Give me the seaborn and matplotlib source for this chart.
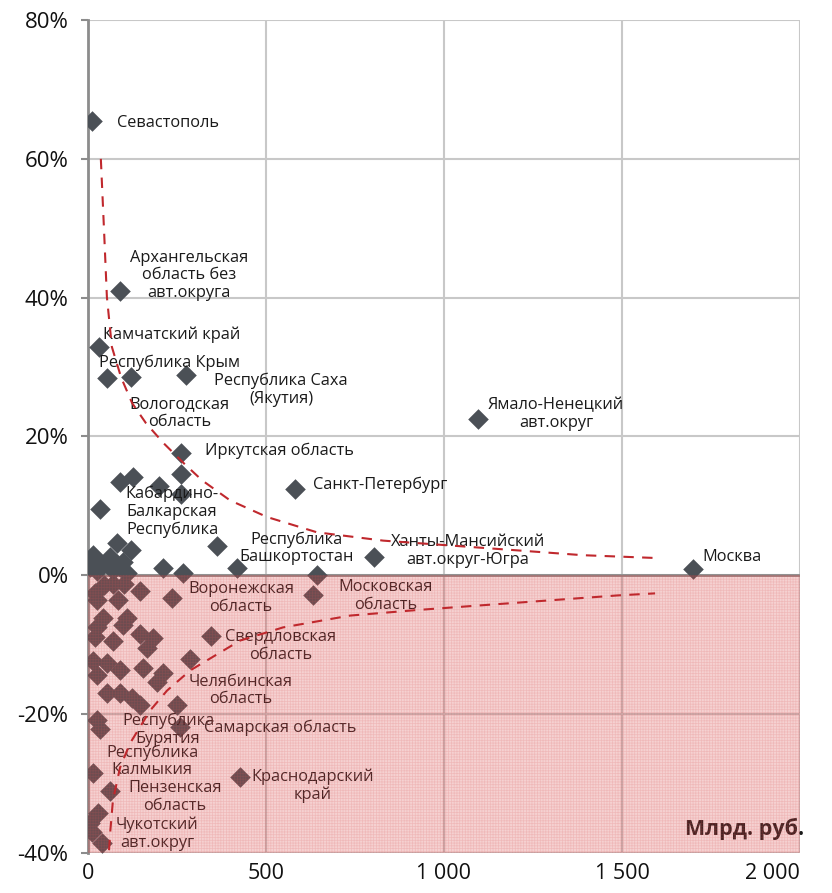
import matplotlib
matplotlib.use("Agg")
import matplotlib.pyplot as plt
import seaborn as sns
import pandas as pd

# ---- data ----
vol_x = [11, 90, 31, 53, 121, 275, 261, 261, 261, 90, 126, 199, 34, 581, 1096, 1699,
         803, 362, 418, 643, 211, 267, 81, 121, 14, 62, 34, 6, 90, 70, 110, 53, 25, 98,
         70, 146, 236, 20, 25, 632, 42, 110, 25, 98, 146, 183, 70, 166, 20, 345, 286,
         14, 53, 90, 154, 211, 194, 25, 53, 90, 124, 146, 250, 25, 34, 258, 427, 14, 62,
         28, 6, 11, 39, 84, 101, 45]
growth_y = [65.4, 41.0, 32.9, 28.4, 28.5, 28.8, 17.6, 14.6, 11.7, 13.4, 14.1, 12.8, 9.5,
            12.5, 22.5, 0.9, 2.6, 4.2, 1.0, 0.1, 1.0, 0.3, 4.6, 3.7, 2.9, 2.6, 1.4, 1.2,
            1.2, 0.7, 0.3, 1.7, 0.6, 1.9, -1.2, -2.2, -3.2, -2.6, -3.6, -2.9, -6.1, -6.1,
            -7.5, -7.2, -8.5, -9.1, -9.4, -10.4, -8.9, -8.8, -12.1, -12.3, -12.7, -13.7,
            -13.3, -14.1, -15.4, -14.4, -17.0, -17.0, -17.6, -18.7, -18.7, -20.9, -22.1,
            -21.9, -29.1, -28.5, -31.0, -34.2, -35.7, -37.0, -38.6, -3.6, -1.2, -1.4]

upper_x = [36, 45, 53, 67, 93, 124, 163, 213, 270, 320, 399, 503, 643, 829, 1017, 1205, 1390, 1593]
upper_y = [60.0, 49.7, 40.1, 32.9, 28.5, 24.8, 21.9, 19.0, 16.1, 13.7, 10.8, 8.4, 6.2, 5.0, 4.3, 3.6, 2.9, 2.5]
lower_x = [59, 62, 70, 90, 118, 174, 222, 287, 427, 548, 736, 924, 1110, 1298, 1486, 1593]
lower_y = [-39.6, -37.2, -32.4, -27.7, -24.2, -19.5, -16.6, -13.7, -9.4, -7.5, -5.8, -5.0, -4.3, -3.6, -2.9, -2.6]

label_text = ["Севастополь", "Архангельская\nобласть без\nавт.округа", "Камчатский край",
              "Республика Крым", "Республика Саха\n(Якутия)", "Вологодская\nобласть",
              "Иркутская область", "Кабардино-\nБалкарская\nРеспублика", "Санкт-Петербург",
              "Ямало-Ненецкий\nавт.округ", "Москва", "Ханты-Мансийский\nавт.округ-Югра",
              "Республика\nБашкортостан", "Воронежская\nобласть", "Московская\nобласть",
              "Свердловская\nобласть", "Челябинская\nобласть", "Республика\nБурятия",
              "Самарская область", "Республика\nКалмыкия", "Краснодарский\nкрай",
              "Пензенская\nобласть", "Чукотский\nавт.округ"]
label_x = [82, 284, 236, 230, 542, 258, 539, 236, 820, 1315, 1809, 1067, 587, 430, 837,
           542, 430, 225, 539, 180, 632, 244, 194]
label_y = [65.2, 43.2, 34.6, 30.6, 26.7, 23.4, 17.9, 9.1, 13.1, 23.2, 2.7, 3.5, 3.9, -3.3,
           -3.0, -10.2, -16.6, -22.2, -21.9, -26.8, -30.3, -31.9, -37.2]

x_ticks = [0, 500, 1000, 1500, 2000]
x_tick_labels = ["0", "500", "1 000", "1 500", "2 000"]
y_ticks = [-40, -20, 0, 20, 40, 60, 80]
y_tick_labels = ["-40%", "-20%", "0%", "20%", "40%", "60%", "80%"]
unit_label = "Млрд. руб."

# ---- drawing ----
sns.set_theme(style="white")
plt.rcParams["font.family"] = ["Open Sans", "DejaVu Sans"]
plt.rcParams["hatch.linewidth"] = 0.5

fig = plt.figure(figsize=(8.32, 8.93), dpi=100)
ax = fig.add_axes([0.1058, 0.0448, 0.8557, 0.9328])

df = pd.DataFrame({"x": vol_x, "y": growth_y})
sns.scatterplot(data=df, x="x", y="y", marker="D", s=110, color="#4b5056",
                linewidth=0, ax=ax, zorder=3)

up = pd.DataFrame({"x": upper_x, "y": upper_y})
lo = pd.DataFrame({"x": lower_x, "y": lower_y})
for d in (up, lo):
    sns.lineplot(data=d, x="x", y="y", sort=False, color="#c0282d", linewidth=1.5,
                 linestyle=(0, (5, 4)), ax=ax, zorder=6)

for t, lx, ly in zip(label_text, label_x, label_y):
    ha = "left" if t == "Севастополь" else "center"
    ax.text(lx, ly, t, ha=ha, va="center", fontsize=11.8, color="#1a1a1a",
            linespacing=1.15, zorder=4)

ax.text(2012, -36.5, unit_label, ha="right", va="center", fontsize=15.5,
        fontweight="bold", color="#1a1a1a", zorder=4)

ax.axhspan(-40, 0, xmin=0, xmax=1, facecolor=(0.85, 0.25, 0.25, 0.24),
           edgecolor=(0.85, 0.35, 0.35, 0.2), hatch="++++++", linewidth=0, zorder=5)

ax.set_xlim(0, 2000)
ax.set_ylim(-40, 80)
ax.set_xticks(x_ticks)
ax.set_xticklabels(x_tick_labels)
ax.set_yticks(y_ticks)
ax.set_yticklabels(y_tick_labels)
ax.set_xlabel("")
ax.set_ylabel("")
ax.grid(True, color="#c8c8c8", linewidth=1.5, zorder=0)
ax.set_axisbelow(True)
ax.axhline(0, color="#8c8c8c", linewidth=2, zorder=2)

for s in ("top", "right", "bottom"):
    ax.spines[s].set_visible(False)
ax.spines["left"].set_color("#8c8c8c")
ax.spines["left"].set_linewidth(2)

ax.tick_params(axis="y", which="both", left=True, length=5, width=1.5, color="#8c8c8c",
               labelsize=16, pad=9, labelcolor="#111111")
ax.tick_params(axis="x", which="both", bottom=False, length=0, labelsize=15.5, pad=7,
               labelcolor="#111111")
ax.get_xticklabels()[-1].set_horizontalalignment("right")

fig.savefig("out.png", dpi=100)
